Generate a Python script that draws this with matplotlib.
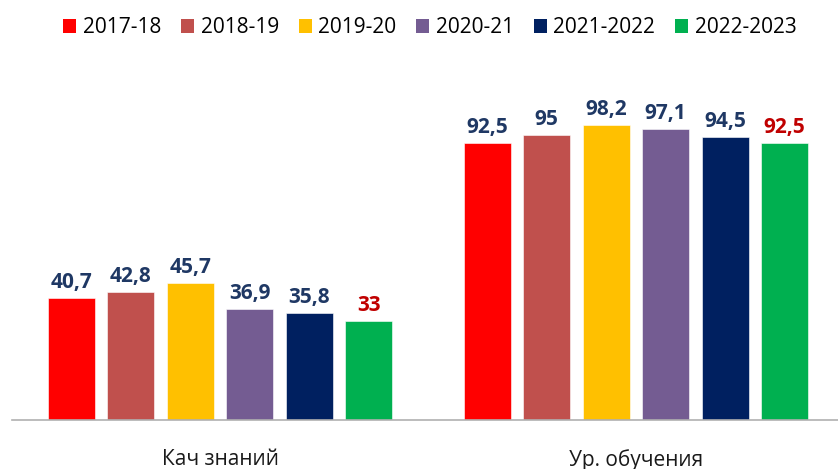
import matplotlib.pyplot as plt
from matplotlib.patches import Patch
import numpy as np

plt.rcParams['font.family'] = ['Open Sans', 'DejaVu Sans']

# данные
categories = ['Кач знаний', 'Ур. обучения']
years = ['2017-18', '2018-19', '2019-20', '2020-21', '2021-2022', '2022-2023']
values = [
    [40.7, 92.5],
    [42.8, 95],
    [45.7, 98.2],
    [36.9, 97.1],
    [35.8, 94.5],
    [33, 92.5],
]
labels = [
    ['40,7', '92,5'],
    ['42,8', '95'],
    ['45,7', '98,2'],
    ['36,9', '97,1'],
    ['35,8', '94,5'],
    ['33', '92,5'],
]
colors = ['#FF0000', '#C0504D', '#FFC000', '#745C92', '#002060', '#00B050']
label_colors = ['#1F3864', '#1F3864', '#1F3864', '#1F3864', '#1F3864', '#C00000']

fig = plt.figure(figsize=(8.38, 4.69), dpi=100)
ax = fig.add_axes([12 / 838, 49 / 469, 832 / 838, 330 / 469])

x = np.arange(len(categories))
step = 0.143
width = 0.114
for i, year in enumerate(years):
    pos = x + (i - 2.5) * step
    ax.bar(pos, values[i], width, color=colors[i], edgecolor='white', linewidth=0.4)
    for xp, v, lab in zip(pos, values[i], labels[i]):
        ax.annotate(lab, (xp, v), xytext=(0, 7.2), textcoords='offset points',
                    ha='center', va='baseline', fontsize=15, fontweight='bold',
                    color=label_colors[i])

ax.set_xlim(-0.5, 1.5)
ax.set_ylim(0, 110)
ax.set_xticks(x)
ax.set_xticklabels(categories, fontsize=15, color='#1a1a1a')
ax.tick_params(axis='x', length=0, pad=21)
ax.set_yticks([])
for s in ['top', 'right', 'left']:
    ax.spines[s].set_visible(False)
ax.spines['bottom'].set_color('#b0b0b0')
ax.spines['bottom'].set_linewidth(1.2)

handles = [Patch(facecolor=c) for c in colors]
fig.legend(handles, years, loc='center', bbox_to_anchor=(0.513, 0.941), ncol=6,
           frameon=False, fontsize=15, handlelength=0.62, handleheight=0.62,
           handletextpad=0.32, columnspacing=0.95, borderaxespad=0)

fig.savefig('out.png', dpi=100)
